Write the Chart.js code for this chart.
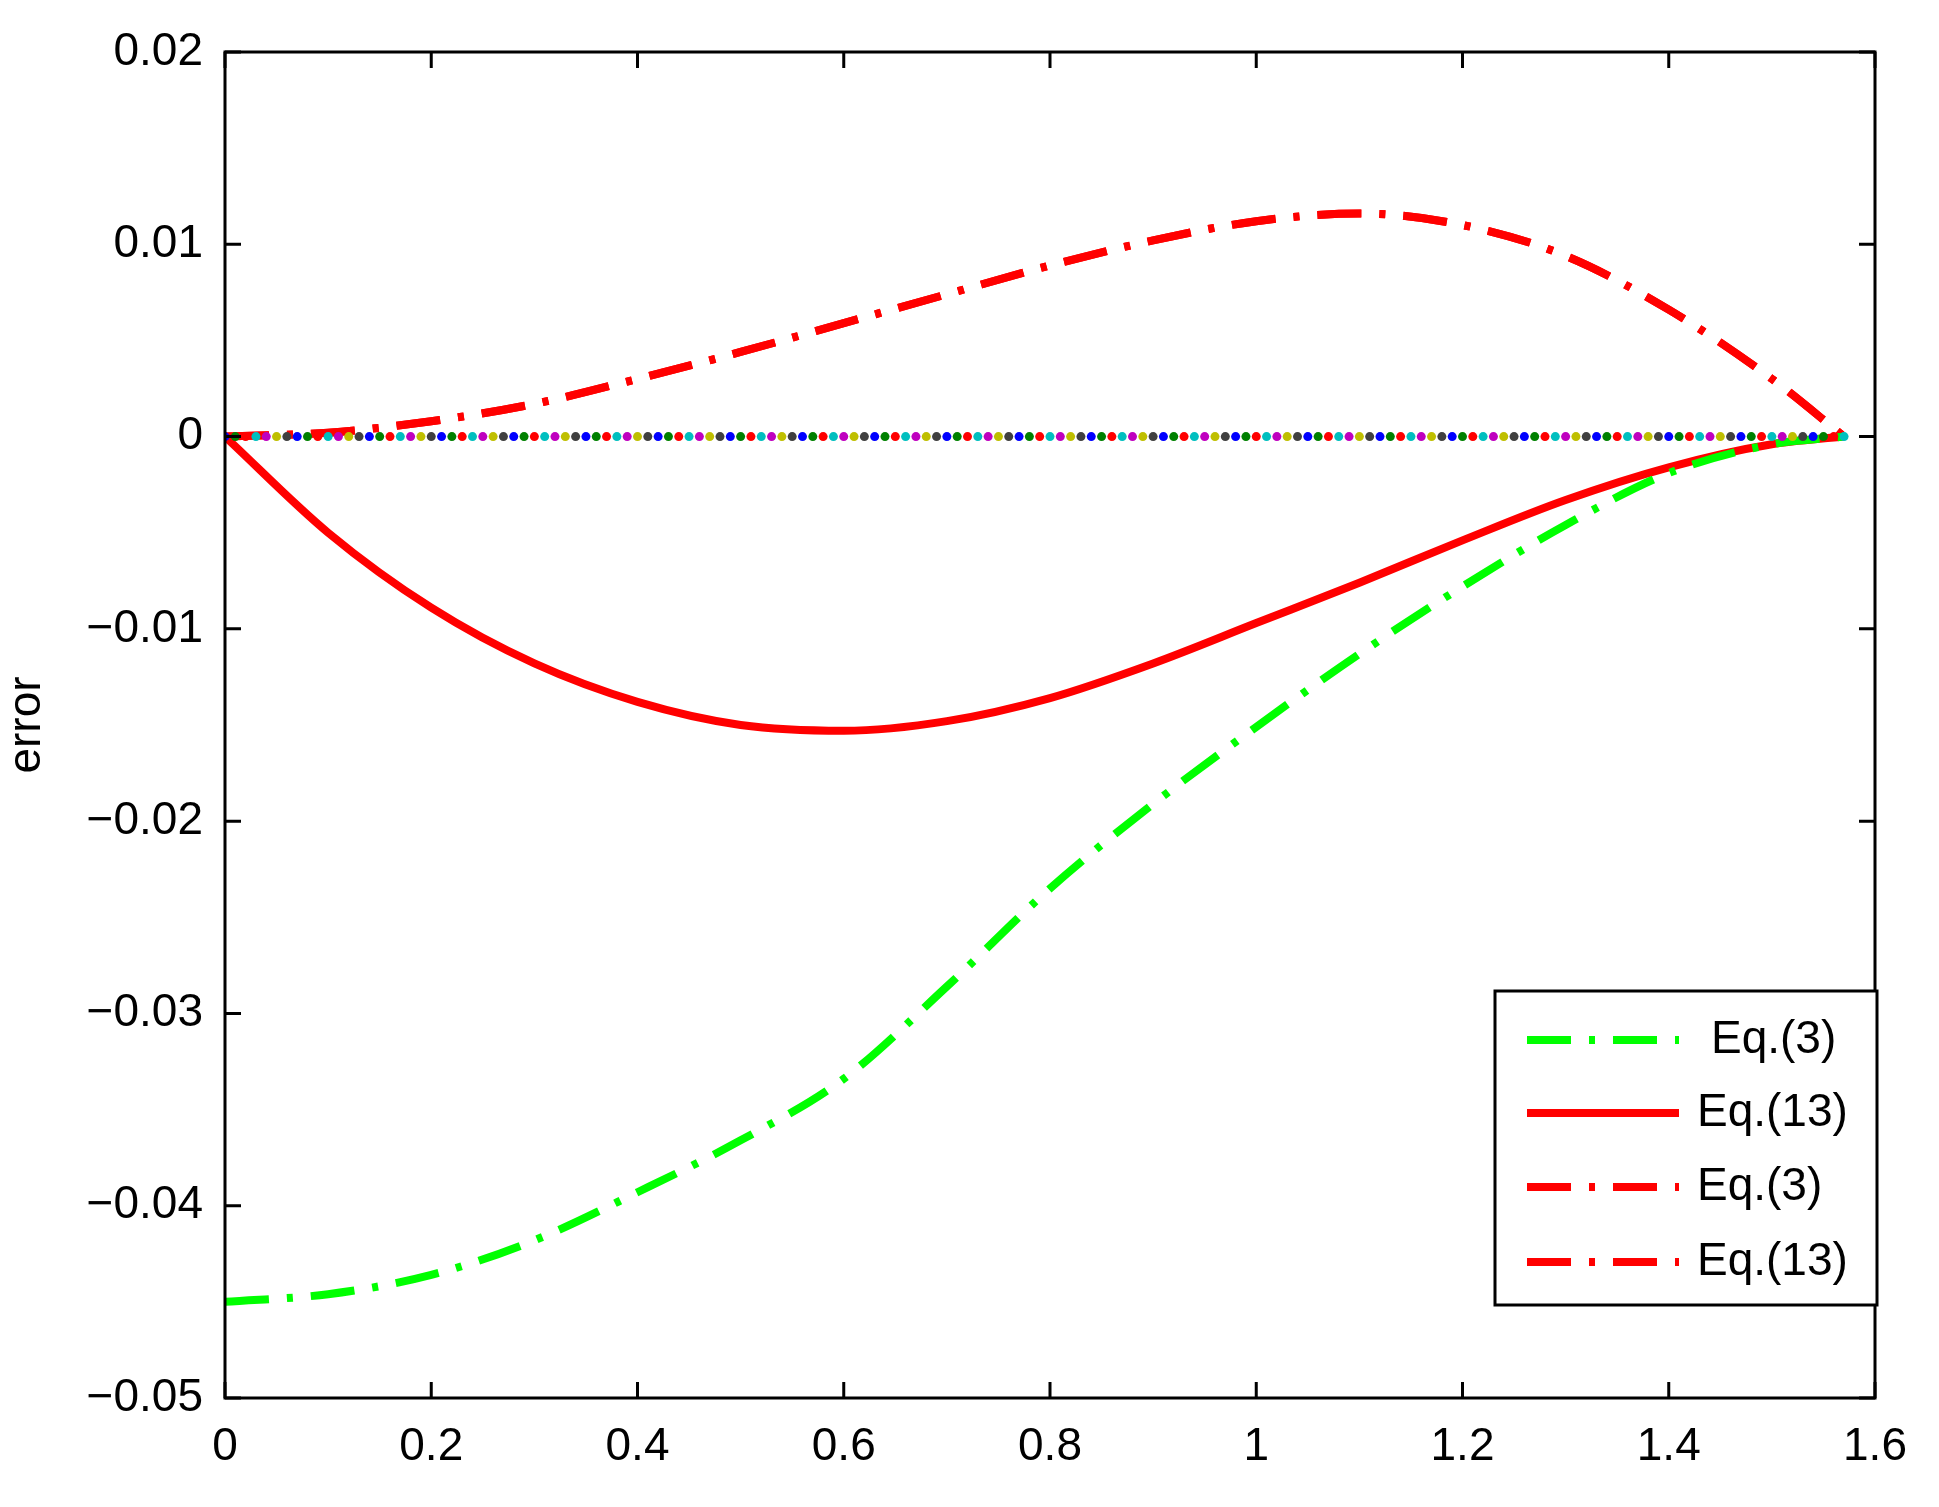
<!DOCTYPE html>
<html>
<head>
<meta charset="utf-8">
<script src="https://cdn.jsdelivr.net/npm/chart.js@4.4.0/dist/chart.umd.min.js"></script>
<style>
  html, body { margin: 0; padding: 0; background: #fff; }
  #wrap { width: 1939px; height: 1507px; }
</style>
</head>
<body>
<div id="wrap"><canvas id="chart" width="1939" height="1507"></canvas></div>
<script>
const xs = [0, 0.1, 0.2, 0.3, 0.4, 0.5, 0.6, 0.7, 0.8, 0.9, 1.0, 1.1, 1.2, 1.3, 1.4, 1.5, 1.57];
const eq3Green = [-0.045, -0.0446, -0.0436, -0.0418, -0.0393, -0.0366, -0.0334, -0.0286, -0.0235, -0.0191, -0.0151, -0.0113, -0.0078, -0.0046, -0.0019, -0.0004, 0];
const eq13Solid = [0, -0.005, -0.0089, -0.0118, -0.0138, -0.015, -0.0153, -0.0148, -0.0136, -0.0118, -0.0097, -0.0076, -0.0054, -0.0033, -0.0016, -0.0004, 0];
const eq3Red = [0, 0.0002, 0.0008, 0.0017, 0.003, 0.0044, 0.0059, 0.0074, 0.0089, 0.0102, 0.0112, 0.0116, 0.011, 0.0094, 0.0066, 0.003, 0];
const eq13Red = [0, 0.0002, 0.0008, 0.0017, 0.003, 0.0044, 0.0059, 0.0074, 0.0089, 0.0102, 0.0112, 0.0116, 0.011, 0.0094, 0.0066, 0.003, 0];
const xTicks = [0, 0.2, 0.4, 0.6, 0.8, 1, 1.2, 1.4, 1.6];
const yTicks = [0.02, 0.01, 0, -0.01, -0.02, -0.03, -0.04, -0.05];
const dotColors = ['#0000ff', '#008000', '#ff0000', '#00bfbf', '#bf00bf', '#bfbf00', '#404040'];
const legendLabels = ['Eq.(3)', 'Eq.(13)', 'Eq.(3)', 'Eq.(13)'];

// zero-line markers, one every 0.01 on x
const zeroDots = [];
for (let i = 0; i <= 157; i++) zeroDots.push({ x: i / 100, y: 0 });

const pts = arr => arr.map((v, i) => ({ x: xs[i], y: v }));
const dashDot = [44, 18, 6, 18];
const FONT = '"Liberation Sans", Arial, sans-serif';

const tickLabel = v => {
  if (v === 0) return '0';
  const s = String(Math.abs(Math.round(v * 1000) / 1000));
  return (v < 0 ? '\u2212' : '') + s;
};

const frame = {
  id: 'frame',
  afterDraw(chart) {
    const { ctx, chartArea: a, scales } = chart;
    ctx.save();
    ctx.strokeStyle = '#000';
    ctx.lineWidth = 3;
    ctx.strokeRect(a.left, a.top, a.right - a.left, a.bottom - a.top);
    const t = 16;
    ctx.beginPath();
    xTicks.forEach(v => {
      const px = scales.x.getPixelForValue(v);
      ctx.moveTo(px, a.bottom); ctx.lineTo(px, a.bottom - t);
      ctx.moveTo(px, a.top); ctx.lineTo(px, a.top + t);
    });
    yTicks.forEach(v => {
      const py = scales.y.getPixelForValue(v);
      ctx.moveTo(a.left, py); ctx.lineTo(a.left + t, py);
      ctx.moveTo(a.right, py); ctx.lineTo(a.right - t, py);
    });
    ctx.stroke();

    // legend box, anchored to the right edge of the plot
    const bw = 382, bh = 314;
    const bx = a.right - bw + 2, by = 991;
    ctx.fillStyle = '#fff';
    ctx.fillRect(bx, by, bw, bh);
    ctx.strokeRect(bx, by, bw, bh);
    ctx.font = '46px ' + FONT;
    ctx.textBaseline = 'middle';
    const ds = chart.data.datasets.slice(1);
    const rows = [1040, 1113, 1187, 1262];
    const textX = [216, 202, 202, 202];
    ds.forEach((d, i) => {
      ctx.strokeStyle = d.borderColor;
      ctx.lineWidth = d.borderWidth;
      ctx.setLineDash(d.borderDash || []);
      ctx.beginPath();
      ctx.moveTo(bx + 32, rows[i]); ctx.lineTo(bx + 184, rows[i]);
      ctx.stroke();
      ctx.setLineDash([]);
      ctx.fillStyle = '#000';
      ctx.fillText(legendLabels[i], bx + textX[i], rows[i]);
    });
    ctx.restore();
  }
};

const curve = (data, color, dash) => ({
  data: pts(data), showLine: true, borderColor: color, borderWidth: 8,
  borderDash: dash, pointRadius: 0, cubicInterpolationMode: 'monotone'
});

new Chart(document.getElementById('chart'), {
  type: 'scatter',
  data: {
    datasets: [
      {
        data: zeroDots,
        showLine: false,
        pointRadius: 4.5,
        pointBackgroundColor: zeroDots.map((p, i) => dotColors[i % dotColors.length]),
        pointBorderWidth: 0,
        order: 0
      },
      curve(eq3Green, '#00ff00', dashDot),
      curve(eq13Solid, '#ff0000', []),
      curve(eq3Red, '#ff0000', dashDot),
      curve(eq13Red, '#ff0000', dashDot)
    ]
  },
  options: {
    responsive: false,
    animation: false,
    devicePixelRatio: 1,
    layout: { padding: { top: 52, right: 64, left: 0, bottom: 0 } },
    plugins: { legend: { display: false }, tooltip: { enabled: false } },
    scales: {
      x: {
        type: 'linear', min: 0, max: 1.6,
        afterBuildTicks: s => { s.ticks = xTicks.map(v => ({ value: v })); },
        afterFit: s => { s.height = 109; },
        grid: { display: false },
        border: { display: false },
        ticks: { color: '#000', font: { family: FONT, size: 46 }, padding: 14, maxRotation: 0, callback: v => tickLabel(v) }
      },
      y: {
        type: 'linear', min: -0.05, max: 0.02,
        afterBuildTicks: s => { s.ticks = yTicks.map(v => ({ value: v })); },
        afterFit: s => { s.width = 225; },
        grid: { display: false },
        border: { display: false },
        title: { display: true, text: 'error', color: '#000', font: { family: FONT, size: 46 }, padding: 0 },
        ticks: { color: '#000', font: { family: FONT, size: 46 }, padding: 14, callback: v => tickLabel(v) }
      }
    }
  },
  plugins: [frame]
});
</script>
</body>
</html>
